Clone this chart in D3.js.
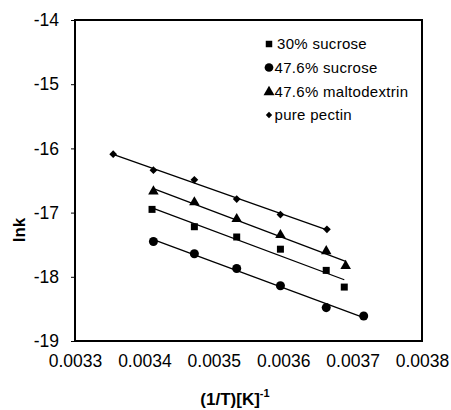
<!DOCTYPE html>
<html>
<head>
<meta charset="utf-8">
<script src="https://cdn.jsdelivr.net/npm/d3@7"></script>
<style>
  body { margin: 0; background: #fff; }
  text { font-family: "Liberation Sans", Arial, sans-serif; fill: #000; }
</style>
</head>
<body>
<div id="chart"></div>
<script>
// 图表尺寸
const width = 451;
const height = 410;

// 数据 (1/T, lnk)
var seriesNames = ["30% sucrose", "47.6% sucrose", "47.6% maltodextrin", "pure pectin"];

var suc30X = [0.003411, 0.003472, 0.003533, 0.003596, 0.003662, 0.003688];
var suc30Y = [-16.95, -17.22, -17.38, -17.57, -17.90, -18.16];

var suc476X = [0.003413, 0.003472, 0.003533, 0.003596, 0.003662, 0.003716];
var suc476Y = [-17.45, -17.64, -17.87, -18.14, -18.48, -18.61];

var maltoX = [0.003413, 0.003472, 0.003533, 0.003596, 0.003662, 0.003690];
var maltoY = [-16.67, -16.84, -17.10, -17.35, -17.60, -17.83];

var pectinX = [0.003355, 0.003413, 0.003472, 0.003533, 0.003596, 0.003663];
var pectinY = [-16.09, -16.34, -16.49, -16.79, -17.03, -17.26];

var xTicks = [0.0033, 0.0034, 0.0035, 0.0036, 0.0037, 0.0038];
var yTicks = [-14, -15, -16, -17, -18, -19];

var svg = d3.select("#chart").append("svg")
    .attr("width", width).attr("height", height);

var x = d3.scaleLinear().domain([0.0033, 0.0038]).range([75, 422]);
var y = d3.scaleLinear().domain([-19, -14]).range([341, 20]);

// 标记形状
var shapes = [
    {type: d3.symbolSquare, size: 49, rot: 0},
    {type: d3.symbolCircle, size: 64, rot: 0},
    {type: d3.symbolTriangle, size: 48, rot: 0},
    {type: d3.symbolSquare, size: 30, rot: 45}
];

var series = [
    {xs: suc30X, ys: suc30Y},
    {xs: suc476X, ys: suc476Y},
    {xs: maltoX, ys: maltoY},
    {xs: pectinX, ys: pectinY}
];

// 坐标轴 (用普通连字符作负号)
svg.append("g")
    .attr("transform", "translate(75,0)")
    .call(d3.axisLeft(y).tickValues(yTicks).tickSize(4).tickPadding(12).tickFormat(d => String(d)))
    .call(g => g.select(".domain").remove())
    .call(g => g.selectAll("line").attr("stroke", "#000").attr("stroke-width", 1))
    .call(g => g.selectAll("text").attr("font-size", "17.5px").attr("font-family", "Liberation Sans, Arial, sans-serif"));

svg.append("g")
    .attr("transform", "translate(0,341)")
    .call(d3.axisBottom(x).tickValues(xTicks).tickSize(0).tickPadding(14).tickFormat(d3.format(".4f")))
    .call(g => g.select(".domain").remove())
    .call(g => g.selectAll("text").attr("font-size", "17.5px").attr("font-family", "Liberation Sans, Arial, sans-serif"));

// 边框
svg.append("rect")
    .attr("x", 75).attr("y", 20)
    .attr("width", 347).attr("height", 321)
    .attr("fill", "none")
    .attr("stroke", "#000")
    .attr("stroke-width", 2);

// 趋势线 (最小二乘)
function fitLine(xs, ys) {
    let mx = d3.mean(xs), my = d3.mean(ys);
    let sxy = d3.sum(xs, (v, i) => (v - mx) * (ys[i] - my));
    let sxx = d3.sum(xs, v => (v - mx) * (v - mx));
    let b = sxy / sxx;
    return v => my + b * (v - mx);
}

series.forEach(function (s, k) {
    let f = fitLine(s.xs, s.ys);
    let x0 = d3.min(s.xs), x1 = d3.max(s.xs);
    svg.append("line")
        .attr("x1", x(x0)).attr("y1", y(f(x0)))
        .attr("x2", x(x1)).attr("y2", y(f(x1)))
        .attr("stroke", "#000")
        .attr("stroke-width", 1.3);

    let pts = s.xs.map((v, i) => [v, s.ys[i]]);
    svg.append("g").selectAll("path")
        .data(pts)
        .enter()
        .append("path")
        .attr("d", d3.symbol().type(shapes[k].type).size(shapes[k].size))
        .attr("transform", d => "translate(" + x(d[0]) + "," + y(d[1]) + ") rotate(" + shapes[k].rot + ")")
        .attr("fill", "#000");
});

// 图例
var legendY = [44, 67.5, 92, 115];
var legendSize = [42, 60, 52, 20];
var legend = svg.append("g").attr("class", "legend");
seriesNames.forEach(function (name, k) {
    legend.append("path")
        .attr("d", d3.symbol().type(shapes[k].type).size(legendSize[k]))
        .attr("transform", "translate(269," + legendY[k] + ") rotate(" + shapes[k].rot + ")")
        .attr("fill", "#000");
    legend.append("text")
        .attr("x", k === 0 ? 277 : 274.5)
        .attr("y", legendY[k])
        .attr("dy", "0.36em")
        .attr("font-size", "15px")
        .attr("letter-spacing", "0.3px")
        .text(name);
});

// 轴标题
svg.append("text")
    .attr("transform", "translate(25,230) rotate(-90)")
    .attr("text-anchor", "middle")
    .attr("font-size", "17px")
    .attr("font-weight", "bold")
    .text("lnk");

var xt = svg.append("text")
    .attr("x", 235).attr("y", 405)
    .attr("text-anchor", "middle")
    .attr("font-size", "17px")
    .attr("font-weight", "bold");
xt.append("tspan").text("(1/T)[K]");
xt.append("tspan")
    .attr("dy", "-8")
    .attr("font-size", "11px")
    .text("-1");
</script>
</body>
</html>
